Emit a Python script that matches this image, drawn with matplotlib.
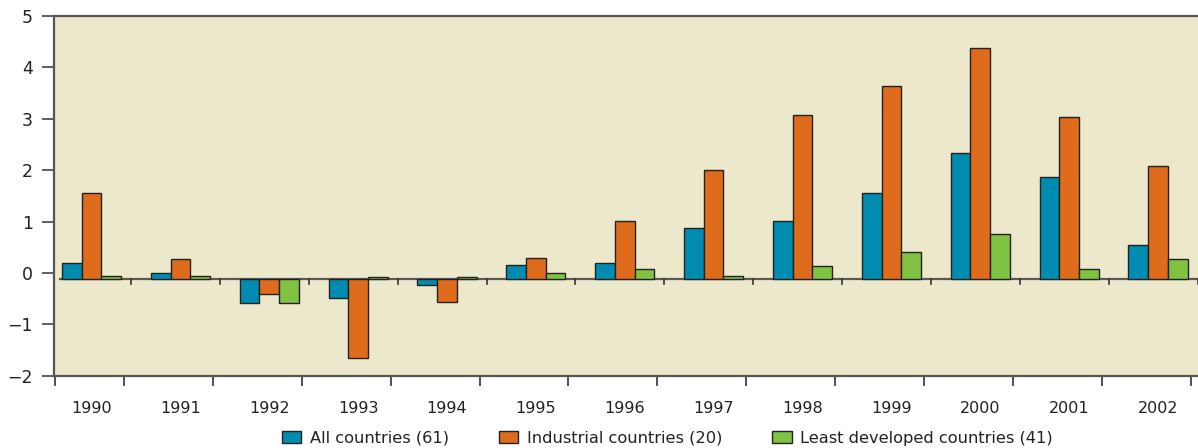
import matplotlib.pyplot as plt
import numpy as np

years = ["1990", "1991", "1992", "1993", "1994", "1995", "1996",
         "1997", "1998", "1999", "2000", "2001", "2002"]
all_countries = [0.19, -0.01, -0.58, -0.49, -0.24, 0.16, 0.19,
                 0.87, 1.01, 1.55, 2.34, 1.86, 0.54]
industrial = [1.55, 0.27, -0.41, -1.66, -0.56, 0.30, 1.01,
              2.00, 3.07, 3.63, 4.37, 3.04, 2.08]
least_developed = [-0.06, -0.05, -0.58, -0.08, -0.08, 0.00, 0.08,
                   -0.05, 0.14, 0.41, 0.76, 0.08, 0.28]
series_labels = ["All countries (61)", "Industrial countries (20)",
                 "Least developed countries (41)"]

colors = ["#008bb0", "#de6c1c", "#80c242"]
bg = "#ece8cb"
baseline = -0.11   # the drawn zero line sits slightly below the 0 tick

plt.rcParams["font.family"] = "DejaVu Sans"
plt.rcParams["font.size"] = 11

fig = plt.figure(figsize=(11.98, 4.48), dpi=100)
ax = fig.add_axes([0.0447, 0.161, 0.9553, 0.804])
ax.set_facecolor(bg)

x = np.arange(len(years))
w = 0.222
for i, vals in enumerate([all_countries, industrial, least_developed]):
    vals = np.array(vals)
    ax.bar(x + (i - 1) * w, vals - baseline, bottom=baseline, width=w,
           color=colors[i], edgecolor="#222222", linewidth=1.0,
           label=series_labels[i], zorder=3)

# zero line with small downward ticks
ax.plot([-0.35, 12.5], [baseline, baseline], color="#5a5a55", lw=1.6,
        zorder=2, clip_on=False)
for k in range(13):
    ax.plot([k + 0.445, k + 0.445], [baseline, baseline - 0.1],
            color="#333333", lw=1.2, zorder=2)

ax.set_ylim(-2, 5)
ax.set_xlim(-0.427, 12.45)
ax.set_yticks(range(-2, 6))
ax.set_yticklabels(["\u22122", "\u22121", "0", "1", "2", "3", "4", "5"])

ax.set_xticks(list(x), minor=False)
ax.set_xticklabels(years)
ax.tick_params(axis="x", which="major", length=0, pad=18)
ax.set_xticks([-0.415] + [k + 0.366 for k in range(13)], minor=True)
ax.tick_params(axis="x", which="minor", direction="out", length=7,
               width=1.2, color="#333333")
ax.tick_params(axis="y", direction="out", length=9, width=1.2,
               color="#444444", pad=6, labelsize=12.5, labelcolor="#222222")
ax.tick_params(axis="x", labelsize=11.5, labelcolor="#222222")

for s in ["left", "bottom", "top"]:
    ax.spines[s].set_color("#555555")
    ax.spines[s].set_linewidth(1.6)
ax.spines["right"].set_visible(False)

leg = fig.legend(loc="lower center", bbox_to_anchor=(0.557, -0.028), ncol=3,
                 frameon=False, fontsize=11.7, handlelength=1.2,
                 handleheight=0.75, handletextpad=0.5, columnspacing=3.1)
for t in leg.get_texts():
    t.set_color("#222222")

fig.savefig("out.png", dpi=100, facecolor="white")
